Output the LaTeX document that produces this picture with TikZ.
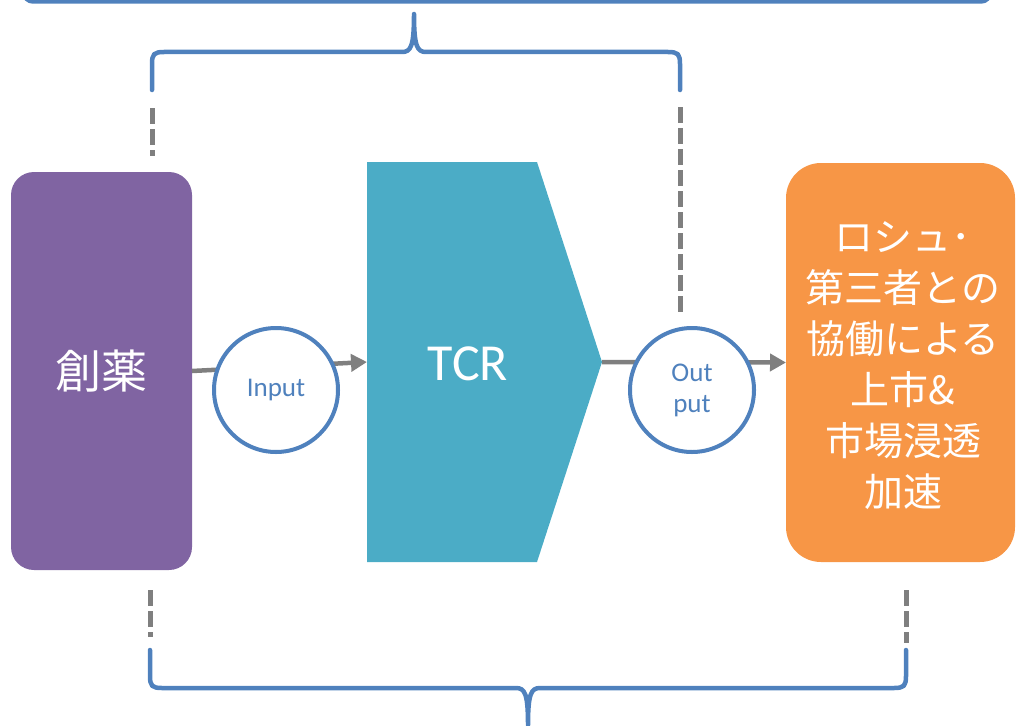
\documentclass[tikz,border=0pt]{standalone}
\usepackage{fontspec}
\setmainfont{Carlito}
\newfontfamily\jp{Noto Sans CJK JP}
\usetikzlibrary{arrows.meta}
\definecolor{drugpurple}{HTML}{8064A2}
\definecolor{tcrteal}{HTML}{4BACC6}
\definecolor{mktorange}{HTML}{F79646}
\definecolor{lineblue}{HTML}{4F81BD}
\definecolor{flowgray}{HTML}{7F7F7F}
\tikzset{
  brace/.style={draw=lineblue, line width=4.5pt, line cap=round, line join=round},
  guide/.style={draw=flowgray, line width=5pt, dash pattern=on 16pt off 5pt},
  flow/.style={draw=flowgray, line width=4.5pt, -{Triangle[length=16pt,width=17pt]}},
  stage/.style={rounded corners=#1, inner sep=0pt, outer sep=0pt, text=white},
  port/.style={circle, draw=lineblue, line width=4pt, fill=white, minimum size=124pt,
    inner sep=0pt, text=lineblue, font=\fontsize{27}{31}\selectfont, align=center},
}
\begin{document}
\begin{tikzpicture}[x=1pt, y=-1pt]
\useasboundingbox (0,0) rectangle (1016,725);

% top frame (lower edge only visible)
\draw[brace, rounded corners=9pt] (24,-60) rectangle (990,1.5);

% top brace
\draw[brace] (152,90) -- (152,64) .. controls (152,54) and (154,52) .. (164,52)
  -- (402,52) .. controls (411,52) and (414,46) .. (414,14)
  .. controls (414,46) and (417,52) .. (426,52)
  -- (668,52) .. controls (678,52) and (680,54) .. (680,64) -- (680,90);

% bottom brace
\draw[brace] (150,650) -- (150,676) .. controls (150,686) and (152,688) .. (162,688)
  -- (516,688) .. controls (525,688) and (528,694) .. (528,725)
  .. controls (528,694) and (531,688) .. (540,688)
  -- (894,688) .. controls (904,688) and (906,686) .. (906,676) -- (906,650);

% dashed guides
\coordinate (g1a) at (152,108); \coordinate (g1b) at (152,156);
\coordinate (g2a) at (680,107); \coordinate (g2b) at (680,312);
\coordinate (g3a) at (150,590); \coordinate (g3b) at (150,637);
\coordinate (g4a) at (906,590); \coordinate (g4b) at (906,643);
\draw[guide] (g1a) -- (g1b);
\draw[guide] (g2a) -- (g2b);
\draw[guide] (g3a) -- (g3b);
\draw[guide] (g4a) -- (g4b);

% stages
\node[stage=23pt, fill=drugpurple, minimum width=181pt, minimum height=398pt,
  font=\jp\fontsize{46}{50}\selectfont] (drug) at (101.5,371) {創薬};

\node[inner sep=0pt, outer sep=0pt, minimum width=235pt, minimum height=400pt] (tcr) at (484.5,362) {};
\fill[tcrteal] (tcr.north west) -- ([xshift=-65pt]tcr.north east) -- (tcr.east)
  -- ([xshift=-65pt]tcr.south east) -- (tcr.south west) -- cycle;
\node[text=white, font=\fontsize{52}{55}\selectfont] (tcrlabel) at (468,364) {TCR};

\node[stage=35pt, fill=mktorange, minimum width=229pt, minimum height=399pt] (mkt) at (900.5,362.5) {};
\node[text=white, align=center, font=\jp\fontsize{39}{51}\selectfont] (mkttext) at (903,366)
  {ロシュ･\\第三者との\\協働による\\上市\&\\市場浸透\\加速};

% flow arrows
\draw[flow] (drug.east) -- (tcr.west);
\draw[flow] (tcr.east) -- (mkt.west);

% input / output ports
\node[port] (inp) at (276,390) {Input};
\node[port] (outp) at (692,390) {Out\\put};
\end{tikzpicture}
\end{document}
